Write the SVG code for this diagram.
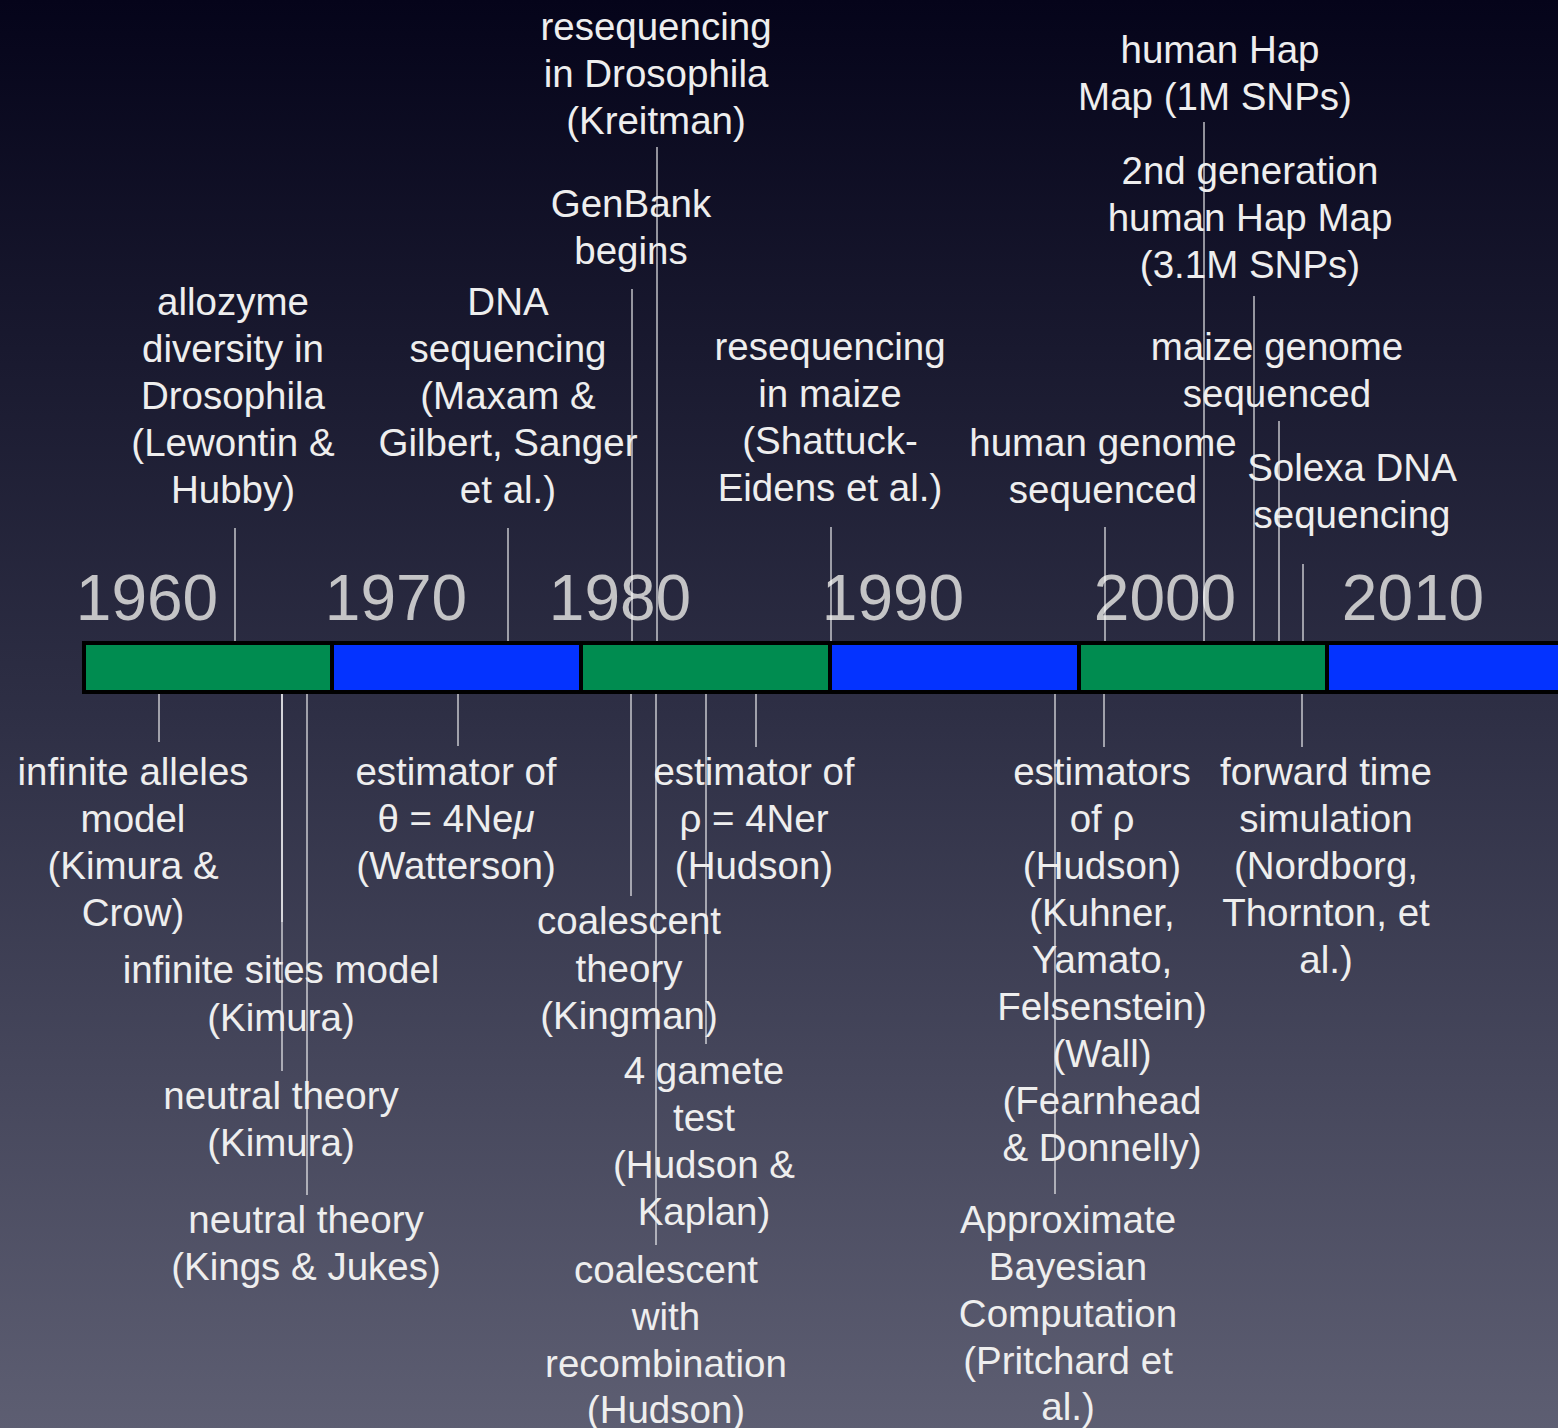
<svg xmlns="http://www.w3.org/2000/svg" width="1558" height="1428" viewBox="0 0 1558 1428">
<defs>
<linearGradient id="bg" x1="0" y1="0" x2="0" y2="1">
<stop offset="0" stop-color="#05041a"/>
<stop offset="0.5" stop-color="#2e2f45"/>
<stop offset="1" stop-color="#5d5e72"/>
</linearGradient>
<style>
.lbl{font-family:"Liberation Sans",Arial,Helvetica,sans-serif;font-size:38.5px;fill:#eeeeee;text-anchor:middle}
.yr{font-family:"Liberation Sans",Arial,Helvetica,sans-serif;font-size:64px;fill:#c4c4c6;text-anchor:middle}
.ln{stroke:#ffffff;stroke-opacity:0.55;stroke-width:2;fill:none}
.g{fill:#008c50}
.b{fill:#0433ff}
</style>
</defs>
<rect width="1558" height="1428" fill="url(#bg)"/>

<g id="years">
<text class="yr" x="147" y="620">1960</text>
<text class="yr" x="396" y="620">1970</text>
<text class="yr" x="620" y="620">1980</text>
<text class="yr" x="893" y="620">1990</text>
<text class="yr" x="1165" y="620">2000</text>
<text class="yr" x="1413" y="620">2010</text>
</g>

<g id="connectors">
<line class="ln" x1="235" y1="528" x2="235" y2="643"/>
<line class="ln" x1="508" y1="528" x2="508" y2="643"/>
<line class="ln" x1="632" y1="289" x2="632" y2="643"/>
<line class="ln" x1="657" y1="147" x2="657" y2="643"/>
<line class="ln" x1="831" y1="527" x2="831" y2="643"/>
<line class="ln" x1="1105" y1="527" x2="1105" y2="643"/>
<line class="ln" x1="1204" y1="122" x2="1204" y2="643"/>
<line class="ln" x1="1254" y1="296" x2="1254" y2="643"/>
<line class="ln" x1="1279" y1="421" x2="1279" y2="643"/>
<line class="ln" x1="1303" y1="564" x2="1303" y2="643"/>

<line class="ln" x1="159" y1="693" x2="159" y2="742"/>
<line class="ln" x1="282" y1="693" x2="282" y2="922"/>
<line class="ln" x1="282" y1="693" x2="282" y2="1071"/>
<line class="ln" x1="307" y1="693" x2="307" y2="1195"/>
<line class="ln" x1="458" y1="693" x2="458" y2="746"/>
<line class="ln" x1="631" y1="693" x2="631" y2="896"/>
<line class="ln" x1="656" y1="693" x2="656" y2="1245"/>
<line class="ln" x1="706" y1="693" x2="706" y2="1044"/>
<line class="ln" x1="756" y1="693" x2="756" y2="747"/>
<line class="ln" x1="1055" y1="693" x2="1055" y2="1194"/>
<line class="ln" x1="1104" y1="693" x2="1104" y2="747"/>
<line class="ln" x1="1302" y1="693" x2="1302" y2="747"/>
</g>

<g id="timeline-bar">
<rect x="82" y="641" width="1480" height="53" fill="#000000"/>
<rect class="g" x="86" y="645" width="244" height="45"/>
<rect class="b" x="334" y="645" width="245" height="45"/>
<rect class="g" x="583" y="645" width="245" height="45"/>
<rect class="b" x="832" y="645" width="245" height="45"/>
<rect class="g" x="1081" y="645" width="244" height="45"/>
<rect class="b" x="1329" y="645" width="232" height="45"/>
</g>

<g id="allozyme">
<text class="lbl" x="233" y="315">allozyme</text>
<text class="lbl" x="233" y="362">diversity in</text>
<text class="lbl" x="233" y="409">Drosophila</text>
<text class="lbl" x="233" y="456">(Lewontin &amp;</text>
<text class="lbl" x="233" y="503">Hubby)</text>
</g>
<g id="dna-sequencing">
<text class="lbl" x="508" y="315">DNA</text>
<text class="lbl" x="508" y="362">sequencing</text>
<text class="lbl" x="508" y="409">(Maxam &amp;</text>
<text class="lbl" x="508" y="456">Gilbert, Sanger</text>
<text class="lbl" x="508" y="503">et al.)</text>
</g>
<g id="genbank">
<text class="lbl" x="631" y="217">GenBank</text>
<text class="lbl" x="631" y="264">begins</text>
</g>
<g id="reseq-drosophila">
<text class="lbl" x="656" y="40">resequencing</text>
<text class="lbl" x="656" y="87">in Drosophila</text>
<text class="lbl" x="656" y="134">(Kreitman)</text>
</g>
<g id="reseq-maize">
<text class="lbl" x="830" y="360">resequencing</text>
<text class="lbl" x="830" y="407">in maize</text>
<text class="lbl" x="830" y="454">(Shattuck-</text>
<text class="lbl" x="830" y="501">Eidens et al.)</text>
</g>
<g id="human-genome">
<text class="lbl" x="1103" y="456">human genome</text>
<text class="lbl" x="1103" y="503">sequenced</text>
</g>
<g id="hapmap">
<text class="lbl" x="1220" y="63">human Hap</text>
<text class="lbl" x="1215" y="110">Map (1M SNPs)</text>
</g>
<g id="hapmap2">
<text class="lbl" x="1250" y="184">2nd generation</text>
<text class="lbl" x="1250" y="231">human Hap Map</text>
<text class="lbl" x="1250" y="278">(3.1M SNPs)</text>
</g>
<g id="maize-genome">
<text class="lbl" x="1277" y="360">maize genome</text>
<text class="lbl" x="1277" y="407">sequenced</text>
</g>
<g id="solexa">
<text class="lbl" x="1352" y="481">Solexa DNA</text>
<text class="lbl" x="1352" y="528">sequencing</text>
</g>

<g id="infinite-alleles">
<text class="lbl" x="133" y="785">infinite alleles</text>
<text class="lbl" x="133" y="832">model</text>
<text class="lbl" x="133" y="879">(Kimura &amp;</text>
<text class="lbl" x="133" y="926">Crow)</text>
</g>
<g id="infinite-sites">
<text class="lbl" x="281" y="983">infinite sites model</text>
<text class="lbl" x="281" y="1031">(Kimura)</text>
</g>
<g id="neutral-kimura">
<text class="lbl" x="281" y="1109">neutral theory</text>
<text class="lbl" x="281" y="1156">(Kimura)</text>
</g>
<g id="neutral-kings-jukes">
<text class="lbl" x="306" y="1233">neutral theory</text>
<text class="lbl" x="306" y="1280">(Kings &amp; Jukes)</text>
</g>
<g id="watterson">
<text class="lbl" x="456" y="785">estimator of</text>
<text class="lbl" x="456" y="832">θ = 4Ne<tspan font-style="italic">μ</tspan></text>
<text class="lbl" x="456" y="879">(Watterson)</text>
</g>
<g id="coalescent">
<text class="lbl" x="629" y="934">coalescent</text>
<text class="lbl" x="629" y="982">theory</text>
<text class="lbl" x="629" y="1029">(Kingman)</text>
</g>
<g id="four-gamete">
<text class="lbl" x="704" y="1084">4 gamete</text>
<text class="lbl" x="704" y="1131">test</text>
<text class="lbl" x="704" y="1178">(Hudson &amp;</text>
<text class="lbl" x="704" y="1225">Kaplan)</text>
</g>
<g id="coalescent-recombination">
<text class="lbl" x="666" y="1283">coalescent</text>
<text class="lbl" x="666" y="1330">with</text>
<text class="lbl" x="666" y="1377">recombination</text>
<text class="lbl" x="666" y="1423">(Hudson)</text>
</g>
<g id="estimator-rho">
<text class="lbl" x="754" y="785">estimator of</text>
<text class="lbl" x="754" y="832">ρ = 4Ner</text>
<text class="lbl" x="754" y="879">(Hudson)</text>
</g>
<g id="estimators-rho">
<text class="lbl" x="1102" y="785">estimators</text>
<text class="lbl" x="1102" y="832">of ρ</text>
<text class="lbl" x="1102" y="879">(Hudson)</text>
<text class="lbl" x="1102" y="926">(Kuhner,</text>
<text class="lbl" x="1102" y="973">Yamato,</text>
<text class="lbl" x="1102" y="1020">Felsenstein)</text>
<text class="lbl" x="1102" y="1067">(Wall)</text>
<text class="lbl" x="1102" y="1114">(Fearnhead</text>
<text class="lbl" x="1102" y="1161">&amp; Donnelly)</text>
</g>
<g id="abc">
<text class="lbl" x="1068" y="1233">Approximate</text>
<text class="lbl" x="1068" y="1280">Bayesian</text>
<text class="lbl" x="1068" y="1327">Computation</text>
<text class="lbl" x="1068" y="1374">(Pritchard et</text>
<text class="lbl" x="1068" y="1420">al.)</text>
</g>
<g id="forward-time">
<text class="lbl" x="1326" y="785">forward time</text>
<text class="lbl" x="1326" y="832">simulation</text>
<text class="lbl" x="1326" y="879">(Nordborg,</text>
<text class="lbl" x="1326" y="926">Thornton, et</text>
<text class="lbl" x="1326" y="973">al.)</text>
</g>
</svg>
